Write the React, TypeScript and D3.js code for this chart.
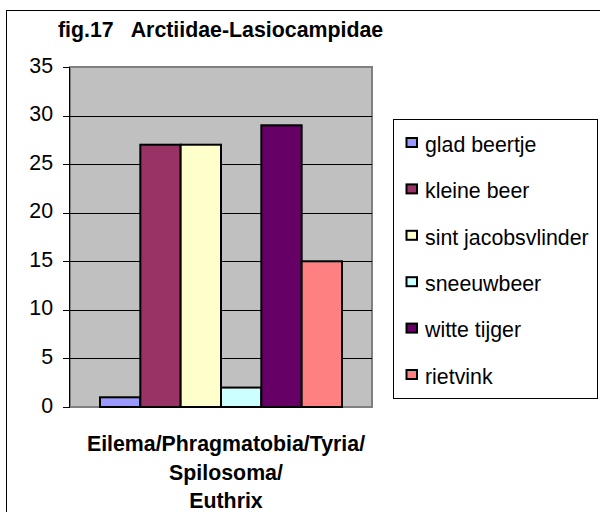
import React from "react";
import * as d3 from "d3";

const series = ["glad beertje", "kleine beer", "sint jacobsvlinder", "sneeuwbeer", "witte tijger", "rietvink"];
const values = [1, 27, 27, 2, 29, 15];
const colors = ["#9999FF", "#993366", "#FFFFCC", "#CCFFFF", "#660066", "#FF8080"];
const yTicks = [0, 5, 10, 15, 20, 25, 30, 35];
const categoryLines = ["Eilema/Phragmatobia/Tyria/", "Spilosoma/", "Euthrix"];
const title = "fig.17   Arctiidae-Lasiocampidae";

export default function App() {
  const W = 600, H = 512;
  const plot = { left: 70, right: 372, top: 67, bottom: 407 };
  const y = d3.scaleLinear().domain([0, 35]).range([plot.bottom, plot.top]);
  const xCat = d3.scaleBand().domain(["c"]).range([plot.left, plot.right]).paddingOuter(0.1).paddingInner(0);
  const x = d3.scaleBand().domain(series).range([100, 342]).padding(0);
  const font = "Arial, 'Liberation Sans', sans-serif";
  const catCenter = (xCat("c") as number) + xCat.bandwidth() / 2;
  const legend = { x: 393, y: 119, w: 210, h: 279 };
  const ly = d3.scalePoint().domain(series).range([144, 376]);
  const fs = 21.33;

  return (
    <svg width={W} height={H} style={{ position: "absolute", left: 0, top: 0 }} fontFamily={font}>
      <rect x={0} y={0} width={W} height={H} fill="#fff" />
      <rect x={6.5} y={10.5} width={620} height={540} fill="#fff" stroke="#000" strokeWidth={1} />
      <text x={58} y={37} fontSize={fs} fontWeight="bold" style={{ whiteSpace: "pre" }}>{title}</text>
      <rect x={plot.left} y={plot.top} width={plot.right - plot.left} height={plot.bottom - plot.top} fill="#C0C0C0" stroke="#808080" strokeWidth={2} />
      {yTicks.filter(t => t > 0 && t < 35).map(t => (
        <line key={t} x1={plot.left} x2={plot.right} y1={Math.round(y(t)) + 0.5} y2={Math.round(y(t)) + 0.5} stroke="#000" strokeWidth={1} />
      ))}
      {series.map((s, i) => (
        <rect key={s} x={x(s)} y={y(values[i])} width={x.bandwidth()} height={y(0) - y(values[i])} fill={colors[i]} stroke="#000" strokeWidth={2} />
      ))}
      <line x1={plot.left - 0.5} x2={plot.left - 0.5} y1={plot.top} y2={plot.bottom} stroke="#000" strokeWidth={1} />
      {yTicks.map(t => (
        <g key={t}>
          <line x1={63} x2={plot.left} y1={Math.round(y(t)) + 0.5} y2={Math.round(y(t)) + 0.5} stroke="#000" />
          <text x={53} y={y(t) + 5.5} textAnchor="end" fontSize={fs}>{t}</text>
        </g>
      ))}
      {categoryLines.map((l, i) => (
        <text key={i} x={catCenter + 5} y={451 + i * 28.5} textAnchor="middle" fontSize={fs} fontWeight="bold">{l}</text>
      ))}
      <rect x={legend.x + 0.5} y={legend.y + 0.5} width={legend.w - 6} height={legend.h} fill="#fff" stroke="#000" strokeWidth={1} />
      {series.map((s, i) => (
        <g key={s}>
          <rect x={406.5} y={(ly(s) as number) - 6} width={10.5} height={9} fill={colors[i]} stroke="#000" strokeWidth={2} />
          <text x={425} y={(ly(s) as number) + 7.7} fontSize={fs}>{s}</text>
        </g>
      ))}
    </svg>
  );
}
